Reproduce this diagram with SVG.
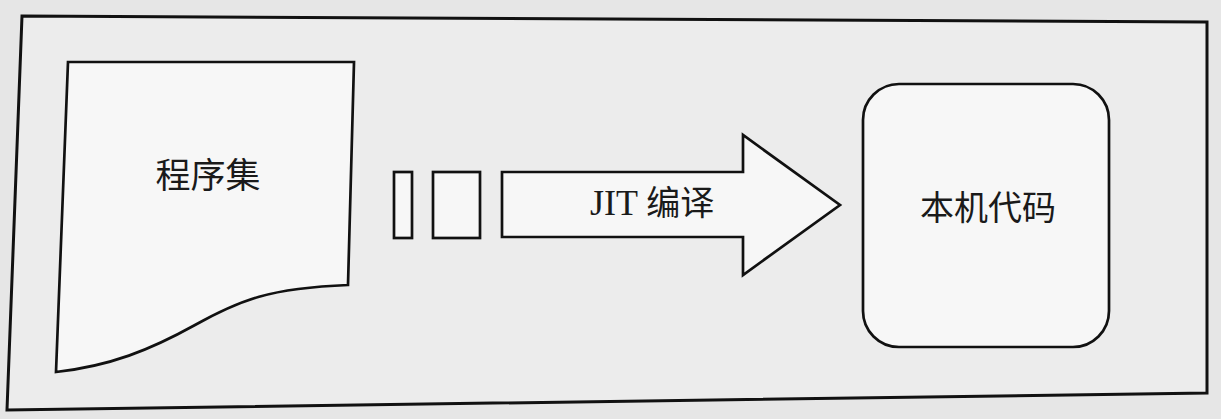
<svg xmlns="http://www.w3.org/2000/svg" width="1221" height="419" viewBox="0 0 1221 419">
<style>
.shape{fill:#f7f7f7;stroke:#111;stroke-width:2.7;stroke-linejoin:miter}
.cjk{font-family:"Noto Sans CJK SC","Noto Sans",sans-serif;fill:#1a1a1a;text-anchor:middle}
.lbl{font-family:"Liberation Serif","Noto Sans CJK SC",serif;fill:#1a1a1a}
.lblc{font-family:"Noto Sans CJK SC",sans-serif}
</style>
<rect x="0" y="0" width="1221" height="419" fill="#e6e6e6"/>
<g id="frame">
<polygon points="22,16 1207,22 1207,393 7,410" fill="#ececec" stroke="#111" stroke-width="3"/>
</g>
<g id="assembly">
<path class="shape" d="M68,62 L354,62 L348,285 C270,288 240,300 195,325 C150,350 110,366 56,372 Z"/>
<text class="cjk" x="208" y="188" font-size="35">程序集</text>
</g>
<g id="connectors">
<rect class="shape" x="394" y="172" width="18" height="66"/>
<rect class="shape" x="433" y="172" width="47" height="66"/>
<polygon class="shape" points="502,172 743,172 743,135 840,205 743,275 743,237 502,237"/>
<text class="lbl" x="590" y="215" font-size="36">JIT <tspan class="lblc" font-size="34">编译</tspan></text>
</g>
<g id="native">
<rect class="shape" x="863" y="84" width="246" height="263" rx="36" ry="36"/>
<text class="cjk" x="988" y="220" font-size="34">本机代码</text>
</g>
</svg>
